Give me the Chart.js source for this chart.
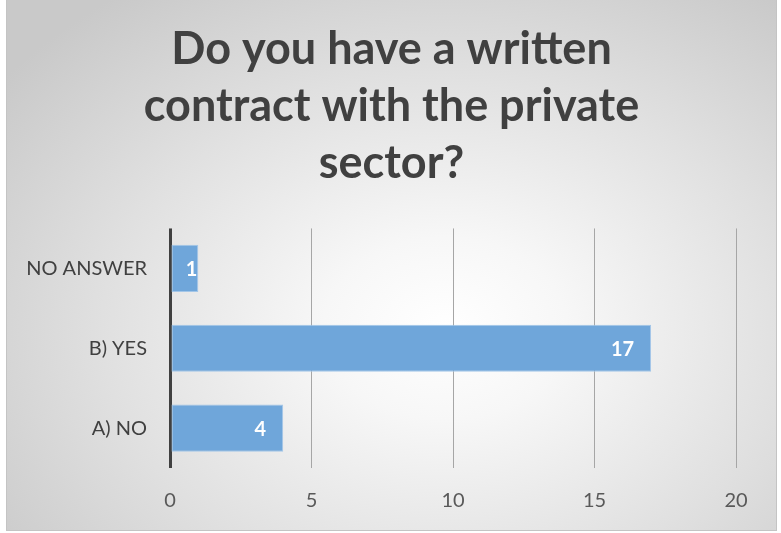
<!DOCTYPE html>
<html>
<head>
<meta charset="utf-8">
<script src="https://cdn.jsdelivr.net/npm/chart.js@4"></script>
<style>
  html, body { margin: 0; padding: 0; background: #fff; }
  #wrap {
    position: absolute; left: 6px; top: -1px;
    width: 769px; height: 530px;
    border: 1px solid #c4c4c4;
    background: radial-gradient(ellipse 72% 78% at 57% 62%, #ffffff 0%, #f7f7f7 22%, #e0e0e0 62%, #c9c9c9 100%);
  }
  canvas { display: block; }
</style>
</head>
<body>
<div id="wrap"><canvas id="chart" width="769" height="530"></canvas></div>
<script>
// ─── Data ────────────────────────────────────────────────
const categories = ['NO ANSWER', 'B) YES', 'A) NO'];
const answers = [1, 17, 4];
const xTicks = [0, 5, 10, 15, 20];
const titleLines = ['Do you have a written', 'contract with the private', 'sector?'];

// value labels drawn inside the end of each bar (Excel "inside end")
const barLabels = {
  id: 'barLabels',
  afterDatasetsDraw(chart) {
    const ctx = chart.ctx;
    const meta = chart.getDatasetMeta(0);
    ctx.save();
    ctx.font = 'bold 20px Lato';
    ctx.fillStyle = '#ffffff';
    ctx.textAlign = 'right';
    ctx.textBaseline = 'middle';
    meta.data.forEach((bar, i) => {
      const txt = String(answers[i]);
      const w = ctx.measureText(txt).width;
      const len = bar.x - bar.base;
      const pad = len > w + 30 ? 17 : 1;
      ctx.fillText(txt, bar.x - pad, bar.y + 1);
    });
    ctx.restore();
  }
};

// centre the title on the whole frame, not on the padded layout box
const fullWidthTitle = {
  id: 'fullWidthTitle',
  afterLayout(chart) {
    const t = chart.titleBlock;
    if (!t) return;
    t.left = 0;
    t.right = chart.width;
    t.width = chart.width;
  }
};

const ctx = document.getElementById('chart').getContext('2d');
new Chart(ctx, {
  type: 'bar',
  data: {
    labels: categories,
    datasets: [{
      data: answers,
      backgroundColor: '#6fa6da',
      borderColor: '#a3c6e8',
      borderWidth: 1,
      borderSkipped: false,
      categoryPercentage: 1,
      barPercentage: 0.59
    }]
  },
  options: {
    indexAxis: 'y',
    responsive: false,
    animation: false,
    layout: { padding: { right: 40, left: 0, top: 0, bottom: 0 } },
    plugins: {
      legend: { display: false },
      tooltip: { enabled: false },
      title: {
        display: true,
        text: titleLines,
        color: '#404040',
        font: { family: 'Lato', size: 45, weight: 'bold', lineHeight: 1.27 },
        padding: { top: 21, bottom: 36 }
      }
    },
    scales: {
      x: {
        min: 0,
        max: 20,
        afterBuildTicks: s => { s.ticks = xTicks.map(v => ({ value: v })); },
        afterFit: s => { s.height = 62; },
        border: { display: false },
        grid: {
          drawTicks: false,
          color: c => c.index === 0 ? '#404040' : '#a6a6a6',
          lineWidth: c => c.index === 0 ? 3 : 1
        },
        ticks: {
          padding: 21,
          color: '#595959',
          font: { family: 'Lato', size: 20 }
        }
      },
      y: {
        afterFit: s => { s.width = 163; },
        border: { display: false },
        grid: { display: false, drawTicks: false },
        ticks: {
          padding: 23,
          color: '#404040',
          font: { family: 'Lato', size: 20 }
        }
      }
    }
  },
  plugins: [barLabels, fullWidthTitle]
});
</script>
</body>
</html>
